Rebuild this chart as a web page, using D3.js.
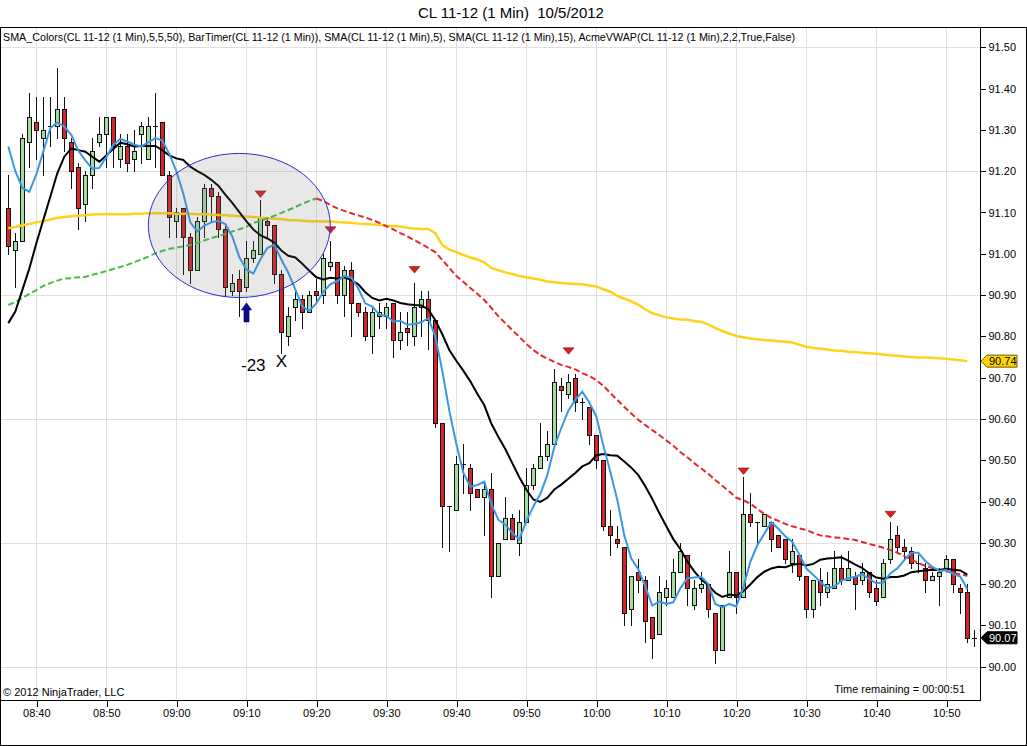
<!DOCTYPE html>
<html>
<head>
<meta charset="utf-8">
<script src="https://cdnjs.cloudflare.com/ajax/libs/d3/7.8.5/d3.min.js"></script>
<style>
body { margin: 0; background: #fff; }
svg { display: block; font-family: "Liberation Sans", Arial, sans-serif; }
</style>
</head>
<body>
<svg id="chart" width="1027" height="746"></svg>
<script>
var title = "CL 11-12 (1 Min)  10/5/2012";
var legend = "SMA_Colors(CL 11-12 (1 Min),5,5,50), BarTimer(CL 11-12 (1 Min)), SMA(CL 11-12 (1 Min),5), SMA(CL 11-12 (1 Min),15), AcmeVWAP(CL 11-12 (1 Min),2,2,True,False)";
var barStart = "08:36"; // first bar, one bar per minute

var barOpen = [
	91.11,91.01,91.03,91.27,91.32,91.28,91.31,91.31,91.35,91.27,
	91.21,91.12,91.19,91.27,91.29,91.33,91.23,91.26,91.23,91.29,
	91.23,91.31,91.32,91.19,91.08,91.11,91.04,90.96,91.08,91.16,
	91.14,91.06,90.91,90.94,90.92,90.99,91.00,91.08,91.07,90.95,
	90.80,90.87,90.89,90.86,90.91,90.90,90.97,90.98,90.90,90.96,
	90.88,90.86,90.80,90.85,90.85,90.88,90.79,90.82,90.80,90.87,
	90.89,90.84,90.59,90.39,90.38,90.49,90.48,90.43,90.41,90.43,
	90.22,90.31,90.36,90.30,90.35,90.44,90.48,90.51,90.54,90.68,
	90.66,90.70,90.64,90.63,90.56,90.50,90.34,90.31,90.29,90.14,
	90.23,90.21,90.12,90.08,90.17,90.17,90.23,90.27,90.15,90.19,
	90.20,90.13,90.04,90.17,90.23,90.17,90.37,90.35,90.34,90.35,
	90.32,90.31,90.25,90.27,90.22,90.14,90.21,90.18,90.19,90.24,
	90.21,90.22,90.21,90.23,90.19,90.17,90.26,90.32,90.29,90.28,
	90.25,90.24,90.21,90.22,90.24,90.26,90.19,90.18,90.07];
var barHigh = [
	91.19,91.05,91.29,91.39,91.38,91.38,91.38,91.45,91.38,91.28,
	91.22,91.20,91.28,91.33,91.33,91.33,91.29,91.29,91.30,91.32,
	91.33,91.39,91.32,91.20,91.11,91.11,91.05,91.09,91.17,91.17,
	91.15,91.07,90.95,90.96,91.03,91.03,91.13,91.09,91.07,90.96,
	90.87,90.91,90.90,90.91,90.94,91.00,91.03,90.98,90.97,90.98,
	90.88,90.87,90.87,90.88,90.88,90.88,90.86,90.86,90.93,90.91,
	90.91,90.84,90.59,90.39,90.51,90.54,90.49,90.43,90.45,90.47,
	90.30,90.41,90.37,90.38,90.48,90.49,90.59,90.57,90.72,90.70,
	90.71,90.71,90.65,90.63,90.56,90.50,90.38,90.34,90.29,90.22,
	90.26,90.22,90.12,90.22,90.21,90.26,90.30,90.27,90.21,90.23,
	90.20,90.13,90.15,90.28,90.23,90.46,90.42,90.35,90.37,90.35,
	90.32,90.31,90.31,90.27,90.22,90.21,90.24,90.23,90.28,90.27,
	90.28,90.23,90.25,90.23,90.21,90.26,90.35,90.34,90.31,90.29,
	90.27,90.25,90.23,90.24,90.27,90.26,90.20,90.20,90.09];
var barLow = [
	91.00,90.92,91.03,91.21,91.23,91.19,91.26,91.28,91.25,91.16,
	91.06,91.08,91.16,91.26,91.21,91.21,91.21,91.20,91.20,91.22,
	91.23,91.21,91.19,91.04,91.04,90.95,90.93,90.96,91.04,91.08,
	91.04,90.90,90.90,90.85,90.91,90.98,91.00,91.04,90.93,90.76,
	90.78,90.84,90.82,90.86,90.88,90.88,90.96,90.88,90.85,90.80,
	90.85,90.79,90.76,90.82,90.82,90.75,90.77,90.78,90.78,90.80,
	90.77,90.58,90.29,90.28,90.38,90.42,90.38,90.41,90.32,90.17,
	90.22,90.31,90.31,90.27,90.35,90.43,90.48,90.50,90.54,90.62,
	90.65,90.62,90.60,90.54,90.48,90.33,90.27,90.29,90.10,90.10,
	90.18,90.06,90.02,90.08,90.15,90.17,90.23,90.15,90.14,90.18,
	90.12,90.01,90.04,90.17,90.13,90.17,90.34,90.30,90.34,90.28,
	90.29,90.25,90.23,90.21,90.12,90.12,90.15,90.17,90.19,90.20,
	90.21,90.14,90.20,90.17,90.15,90.17,90.25,90.28,90.26,90.24,
	90.23,90.18,90.21,90.15,90.24,90.18,90.13,90.06,90.05];
var barClose = [
	91.02,91.03,91.28,91.33,91.30,91.30,91.31,91.35,91.28,91.20,
	91.11,91.19,91.25,91.29,91.33,91.26,91.26,91.22,91.25,91.31,
	91.31,91.31,91.19,91.09,91.10,91.04,90.96,91.08,91.16,91.14,
	91.06,90.92,90.93,90.91,90.99,91.01,91.09,91.07,90.95,90.81,
	90.85,90.89,90.86,90.90,90.90,90.99,90.98,90.90,90.96,90.88,
	90.86,90.80,90.86,90.86,90.87,90.79,90.81,90.81,90.87,90.89,
	90.84,90.59,90.39,90.39,90.49,90.49,90.42,90.41,90.43,90.22,
	90.30,90.36,90.31,90.35,90.44,90.48,90.51,90.54,90.69,90.67,
	90.69,90.64,90.64,90.56,90.50,90.34,90.32,90.30,90.13,90.22,
	90.21,90.11,90.07,90.18,90.19,90.23,90.28,90.19,90.19,90.20,
	90.14,90.04,90.15,90.23,90.17,90.37,90.35,90.35,90.37,90.31,
	90.29,90.26,90.28,90.22,90.14,90.21,90.18,90.20,90.24,90.21,
	90.24,90.20,90.23,90.18,90.16,90.25,90.31,90.29,90.28,90.25,
	90.25,90.21,90.22,90.23,90.26,90.20,90.18,90.07,90.07];

// indicators, one value per closed bar (08:36 .. 10:53)
var sma5 = [
	91.26,91.20,91.16,91.15,91.192,91.248,91.304,91.318,91.308,91.288,
	91.250,91.226,91.206,91.208,91.234,91.264,91.278,91.272,91.264,91.260,
	91.270,91.280,91.274,91.242,91.200,91.146,91.076,91.054,91.068,91.076,
	91.080,91.072,91.042,90.992,90.962,90.952,90.986,91.014,91.022,90.986,
	90.954,90.914,90.872,90.862,90.880,90.908,90.926,90.934,90.946,90.942,
	90.916,90.880,90.872,90.852,90.850,90.836,90.838,90.828,90.830,90.834,
	90.844,90.800,90.716,90.620,90.540,90.470,90.436,90.440,90.448,90.394,
	90.356,90.344,90.324,90.308,90.352,90.388,90.418,90.464,90.532,90.578,
	90.620,90.646,90.666,90.640,90.606,90.536,90.472,90.404,90.318,90.262,
	90.236,90.194,90.148,90.158,90.152,90.156,90.190,90.214,90.216,90.218,
	90.200,90.152,90.144,90.152,90.146,90.192,90.254,90.294,90.322,90.350,
	90.334,90.316,90.302,90.272,90.238,90.222,90.206,90.190,90.194,90.208,
	90.214,90.218,90.224,90.212,90.202,90.204,90.226,90.238,90.258,90.276,
	90.276,90.256,90.242,90.232,90.234,90.224,90.218,90.188];
var sma15 = [
	90.832,90.860,90.912,90.964,91.025,91.082,91.138,91.195,91.235,91.255,
	91.251,91.247,91.235,91.223,91.238,91.254,91.269,91.265,91.260,91.261,
	91.261,91.261,91.251,91.238,91.231,91.227,91.211,91.200,91.191,91.179,
	91.165,91.143,91.123,91.101,91.079,91.059,91.045,91.037,91.027,91.008,
	90.995,90.991,90.976,90.959,90.943,90.938,90.942,90.940,90.943,90.936,
	90.926,90.907,90.893,90.887,90.891,90.887,90.881,90.878,90.876,90.875,
	90.865,90.839,90.805,90.767,90.741,90.717,90.691,90.661,90.633,90.589,
	90.557,90.527,90.493,90.459,90.429,90.405,90.399,90.409,90.429,90.441,
	90.455,90.469,90.485,90.493,90.512,90.515,90.512,90.511,90.497,90.482,
	90.464,90.437,90.406,90.372,90.340,90.309,90.285,90.255,90.231,90.211,
	90.197,90.179,90.169,90.175,90.172,90.183,90.199,90.217,90.230,90.238,
	90.242,90.241,90.247,90.249,90.245,90.249,90.259,90.262,90.263,90.265,
	90.257,90.247,90.239,90.226,90.216,90.213,90.217,90.217,90.221,90.229,
	90.231,90.233,90.235,90.234,90.237,90.235,90.233,90.223];
var sma50 = [
	90.876,90.883,90.893,90.903,90.912,90.922,90.929,90.935,90.940,90.941,
	90.943,90.944,90.949,90.953,90.958,90.963,90.968,90.973,90.980,90.986,
	90.993,91.001,91.007,91.012,91.015,91.018,91.021,91.026,91.032,91.038,
	91.043,91.048,91.054,91.059,91.065,91.075,91.079,91.086,91.092,91.099,
	91.106,91.113,91.121,91.128,91.134,91.128,91.118,91.110,91.104,91.098,
	91.093,91.088,91.082,91.075,91.067,91.059,91.050,91.042,91.033,91.024,
	91.014,91.004,90.985,90.966,90.946,90.932,90.917,90.903,90.888,90.869,
	90.849,90.832,90.815,90.799,90.782,90.767,90.755,90.746,90.738,90.731,
	90.726,90.720,90.711,90.704,90.694,90.680,90.663,90.646,90.629,90.613,
	90.598,90.585,90.573,90.561,90.548,90.535,90.520,90.507,90.493,90.480,
	90.467,90.452,90.438,90.424,90.409,90.403,90.395,90.382,90.370,90.360,
	90.353,90.346,90.340,90.335,90.331,90.324,90.318,90.316,90.313,90.312,
	90.309,90.307,90.302,90.297,90.293,90.288,90.283,90.276,90.268,90.260,
	90.251,90.244,90.239,90.234,90.231,90.227,90.223,90.220];
var vwap = [
	91.062,91.065,91.069,91.072,91.076,91.079,91.083,91.087,91.089,91.091,
	91.092,91.093,91.095,91.096,91.096,91.096,91.096,91.096,91.097,91.097,
	91.098,91.098,91.098,91.098,91.097,91.097,91.097,91.096,91.096,91.095,
	91.094,91.093,91.092,91.091,91.090,91.089,91.087,91.086,91.085,91.084,
	91.082,91.081,91.080,91.079,91.079,91.078,91.078,91.077,91.076,91.075,
	91.073,91.072,91.071,91.070,91.068,91.067,91.066,91.063,91.061,91.060,
	91.060,91.050,91.021,91.010,91.004,90.997,90.991,90.986,90.979,90.966,
	90.960,90.955,90.951,90.946,90.943,90.940,90.937,90.933,90.931,90.929,
	90.928,90.927,90.926,90.923,90.921,90.914,90.908,90.898,90.891,90.885,
	90.877,90.865,90.856,90.851,90.846,90.843,90.841,90.840,90.837,90.835,
	90.829,90.820,90.813,90.807,90.801,90.798,90.795,90.793,90.791,90.790,
	90.788,90.787,90.785,90.780,90.775,90.772,90.770,90.768,90.766,90.765,
	90.763,90.762,90.760,90.759,90.758,90.756,90.754,90.753,90.751,90.750,
	90.749,90.749,90.748,90.747,90.746,90.744,90.742,90.740];

var signalTimes = ["09:12","09:22","09:34","09:56","10:21","10:42"];
var signalPrices = [91.145, 91.058, 90.962, 90.765, 90.474, 90.369];

var priceTicks = [90.00,90.10,90.20,90.30,90.40,90.50,90.60,90.70,90.80,90.90,91.00,91.10,91.20,91.30,91.40,91.50];
var gridPrices = [90.00,90.30,90.60,90.90,91.20,91.50];

// hand drawn objects on the chart
var ellipseBox = {from: "08:56", to: "09:22", top: 91.243, bottom: 90.894};
var arrowUp = {time: "09:10", top: 90.881, bottom: 90.835};
var notes = [{time: "09:11", price: 90.715, text: "-23"}, {time: "09:15", price: 90.725, text: "X"}];

var parseT = d3.timeParse("%H:%M");
var first = parseT(barStart);
var times = barOpen.map(function(d, i) { return d3.timeMinute.offset(first, i); });

var x = d3.scaleTime().domain([parseT("08:40"), parseT("10:50")]).range([36.3, 946.3]);
var y = d3.scaleLinear().domain([90.00, 91.50]).range([666.7, 47.3]);

var svg = d3.select("#chart");
var plotR = 980.5, plotT = 27.5, plotB = 700.5;

svg.append("clipPath").attr("id", "plot").append("rect")
	.attr("x", 1).attr("y", 28).attr("width", 979).attr("height", 672);

// grid
var grid = svg.append("g").attr("shape-rendering", "crispEdges").attr("stroke", "#e0e0e0");
grid.selectAll(".v").data(x.ticks(d3.timeMinute.every(10))).enter().append("line")
	.attr("x1", function(d) { return Math.round(x(d)) + 0.5; })
	.attr("x2", function(d) { return Math.round(x(d)) + 0.5; })
	.attr("y1", plotT).attr("y2", plotB);
grid.selectAll(".h").data(gridPrices).enter().append("line")
	.attr("x1", 1).attr("x2", plotR)
	.attr("y1", function(d) { return Math.round(y(d)) + 0.5; })
	.attr("y2", function(d) { return Math.round(y(d)) + 0.5; });

var plot = svg.append("g").attr("clip-path", "url(#plot)");

// candles
var bars = barOpen.map(function(o, i) {
	return {t: times[i], o: o, h: barHigh[i], l: barLow[i], c: barClose[i]};
});
var candles = plot.append("g").attr("shape-rendering", "crispEdges");
candles.selectAll("line").data(bars).enter().append("line")
	.attr("x1", function(d) { return Math.round(x(d.t)) + 0.5; })
	.attr("x2", function(d) { return Math.round(x(d.t)) + 0.5; })
	.attr("y1", function(d) { return Math.round(y(d.h)); })
	.attr("y2", function(d) { return Math.round(y(d.l)) + 1; })
	.attr("stroke", "#111");
candles.selectAll("rect").data(bars.filter(function(d) { return d.o != d.c; })).enter().append("rect")
	.attr("x", function(d) { return Math.round(x(d.t)) - 1.5; })
	.attr("width", 4)
	.attr("y", function(d) { return Math.round(y(Math.max(d.o, d.c))) + 0.5; })
	.attr("height", function(d) { return Math.max(1, Math.round(y(Math.min(d.o, d.c))) - Math.round(y(Math.max(d.o, d.c)))); })
	.attr("fill", function(d) { return d.c > d.o ? "#a3dba0" : "#d6252a"; })
	.attr("stroke", "#111");
candles.selectAll(".doji").data(bars.filter(function(d) { return d.o == d.c; })).enter().append("line")
	.attr("x1", function(d) { return Math.round(x(d.t)) - 2; })
	.attr("x2", function(d) { return Math.round(x(d.t)) + 3; })
	.attr("y1", function(d) { return Math.round(y(d.c)) + 0.5; })
	.attr("y2", function(d) { return Math.round(y(d.c)) + 0.5; })
	.attr("stroke", "#111");

var line = d3.line().x(function(d) { return x(d.t); }).y(function(d) { return y(d.v); });
function pts(arr) { return arr.map(function(v, i) { return {t: times[i], v: v}; }); }

// vwap
plot.append("path").datum(pts(vwap)).attr("d", line)
	.attr("fill", "none").attr("stroke", "#ffd21a").attr("stroke-width", 2.5);

// SMA 50 coloured by slope
var p50 = pts(sma50), runs = [];
for (var i = 1; i < p50.length; i++) {
	var col = p50[i].v >= p50[i - 1].v ? "#46bd46" : "#e8262a";
	var last = runs[runs.length - 1];
	if (last && last.color == col) last.pts.push(p50[i]);
	else runs.push({color: col, pts: [p50[i - 1], p50[i]]});
}
plot.selectAll(".sma50").data(runs).enter().append("path")
	.attr("d", function(d) { return line(d.pts); })
	.attr("fill", "none").attr("stroke", function(d) { return d.color; })
	.attr("stroke-width", 2).attr("stroke-dasharray", "6,3");

plot.append("path").datum(pts(sma15)).attr("d", line)
	.attr("fill", "none").attr("stroke", "#000").attr("stroke-width", 2);
plot.append("path").datum(pts(sma5)).attr("d", line)
	.attr("fill", "none").attr("stroke", "#3898e8").attr("stroke-width", 2);

// signal triangles
plot.selectAll(".sig").data(signalTimes).enter().append("path")
	.attr("d", function(d, i) {
		var cx = Math.round(x(parseT(d))) + 0.5, cy = y(signalPrices[i]);
		return "M" + (cx - 5.5) + "," + (cy - 3) + "L" + (cx + 5.5) + "," + (cy - 3) + "L" + cx + "," + (cy + 3.5) + "Z";
	})
	.attr("fill", "#d42020").attr("stroke", "#8a1010").attr("stroke-width", 0.6);

// ellipse drawing object
var ex0 = x(parseT(ellipseBox.from)), ex1 = x(parseT(ellipseBox.to));
plot.append("ellipse")
	.attr("cx", (ex0 + ex1) / 2).attr("cy", (y(ellipseBox.top) + y(ellipseBox.bottom)) / 2)
	.attr("rx", (ex1 - ex0) / 2).attr("ry", (y(ellipseBox.bottom) - y(ellipseBox.top)) / 2)
	.attr("fill", "rgba(120,120,120,0.17)").attr("stroke", "#2c2cd0").attr("stroke-width", 1);

// arrow
var ax = Math.round(x(parseT(arrowUp.time))) + 0.5, at = y(arrowUp.top), ab = y(arrowUp.bottom);
plot.append("path")
	.attr("d", "M" + ax + "," + at + "L" + (ax + 5) + "," + (at + 7) + "L" + (ax + 2.5) + "," + (at + 7) +
		"L" + (ax + 2.5) + "," + ab + "L" + (ax - 2.5) + "," + ab + "L" + (ax - 2.5) + "," + (at + 7) +
		"L" + (ax - 5) + "," + (at + 7) + "Z")
	.attr("fill", "#0a0a8e").attr("stroke", "#06065a").attr("stroke-width", 0.7);

plot.selectAll(".note").data(notes).enter().append("text")
	.attr("x", function(d) { return x(parseT(d.time)); })
	.attr("y", function(d) { return y(d.price); })
	.attr("text-anchor", "middle").attr("font-size", 17).attr("fill", "#000")
	.text(function(d) { return d.text; });

// axes
var xAxis = svg.append("g").attr("transform", "translate(0," + plotB + ")")
	.call(d3.axisBottom(x).ticks(d3.timeMinute.every(10)).tickFormat(d3.timeFormat("%H:%M")).tickSize(6).tickPadding(3));
var yAxis = svg.append("g").attr("transform", "translate(" + plotR + ",0)")
	.call(d3.axisRight(y).tickValues(priceTicks).tickFormat(d3.format(".2f")).tickSize(5).tickPadding(3));
[xAxis, yAxis].forEach(function(a) {
	a.attr("font-family", null).attr("font-size", 11);
	a.select(".domain").remove();
	a.selectAll(".tick line").attr("stroke", "#000").attr("shape-rendering", "crispEdges");
	a.selectAll(".tick text").attr("fill", "#000");
});
xAxis.selectAll(".tick line").attr("transform", function() { return "translate(0.5,0)"; });

// price markers on the axis
var markers = [
	{v: vwap[vwap.length - 1], fill: "#ffd700", stroke: "#6a5a00", text: "#000"},
	{v: barClose[barClose.length - 1], fill: "#000", stroke: "#000", text: "#fff"}
];
var mk = svg.selectAll(".mk").data(markers).enter().append("g");
mk.append("path")
	.attr("d", function(d) {
		var cy = y(d.v);
		return "M981," + cy + "L987," + (cy - 6) + "L1017," + (cy - 6) + "L1017," + (cy + 6) + "L987," + (cy + 6) + "Z";
	})
	.attr("fill", function(d) { return d.fill; }).attr("stroke", function(d) { return d.stroke; });
mk.append("text")
	.attr("x", 989).attr("y", function(d) { return y(d.v) + 4; })
	.attr("font-size", 11).attr("fill", function(d) { return d.text; })
	.text(function(d) { return d3.format(".2f")(d.v); });

// frame
var frame = svg.append("g").attr("stroke", "#000").attr("shape-rendering", "crispEdges");
frame.append("line").attr("x1", 0).attr("x2", 1027).attr("y1", plotT).attr("y2", plotT);
frame.append("line").attr("x1", 0.5).attr("x2", 0.5).attr("y1", plotT).attr("y2", 746);
frame.append("line").attr("x1", plotR).attr("x2", plotR).attr("y1", plotT).attr("y2", plotB);
frame.append("line").attr("x1", 0).attr("x2", plotR).attr("y1", plotB).attr("y2", plotB);
frame.append("line").attr("x1", 0).attr("x2", 1027).attr("y1", 745.5).attr("y2", 745.5);
frame.append("line").attr("x1", 1026.5).attr("x2", 1026.5).attr("y1", plotT).attr("y2", 746);

// texts
svg.append("text").attr("x", 511).attr("y", 18).attr("text-anchor", "middle")
	.attr("font-size", 15).attr("fill", "#000").style("white-space", "pre").text(title);
svg.append("text").attr("x", 3).attr("y", 41).attr("font-size", 11).attr("fill", "#000")
	.attr("textLength", 792).attr("lengthAdjust", "spacingAndGlyphs").text(legend);
svg.append("text").attr("x", 3).attr("y", 696).attr("font-size", 11).attr("fill", "#000")
	.text("\u00a9 2012 NinjaTrader, LLC");
svg.append("text").attr("x", 965).attr("y", 693).attr("text-anchor", "end").attr("font-size", 11).attr("fill", "#000")
	.text("Time remaining = 00:00:51");
</script>
</body>
</html>
